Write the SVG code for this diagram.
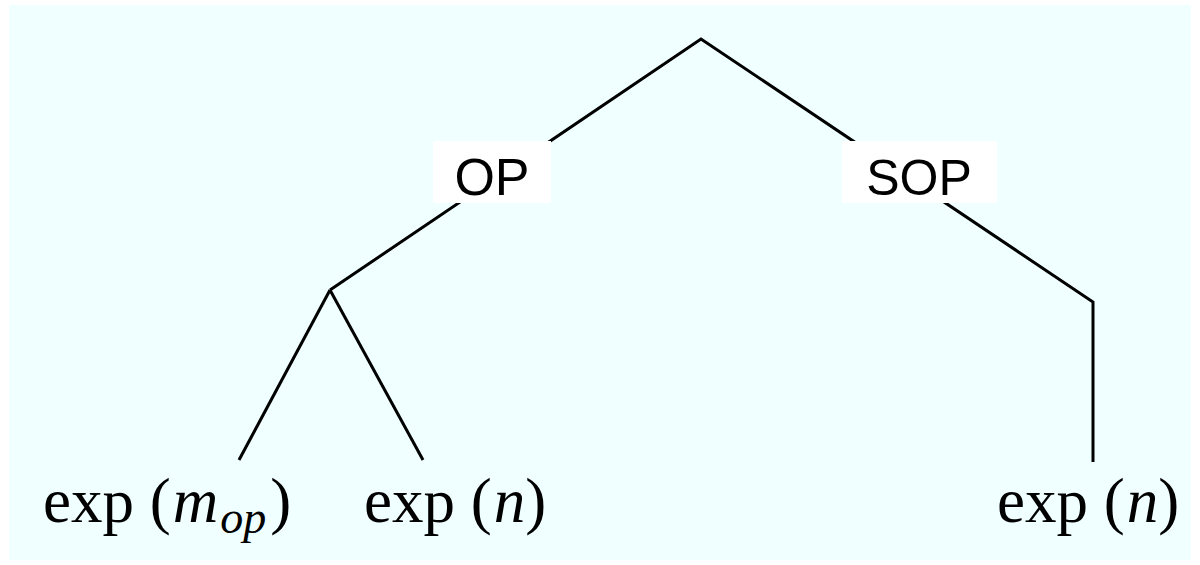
<svg xmlns="http://www.w3.org/2000/svg" width="1200" height="565" viewBox="0 0 1200 565">
<style>
.edge{stroke:#000;stroke-width:3;fill:none;stroke-linecap:butt;stroke-linejoin:miter}
.lbl{font-family:"Liberation Sans",Arial,sans-serif;fill:#000;text-anchor:middle}
.box{fill:#fff}
.math{font-family:"Liberation Serif","Times New Roman",serif;font-size:63px;fill:#000}
.it{font-style:italic}
</style>
<rect x="9" y="5" width="1182" height="555" fill="#F0FFFF"/>
<g id="connectors">
<polyline class="edge" points="330,290 701,39 1093,302 1093,462"/>
<line class="edge" x1="330" y1="290" x2="239" y2="460"/>
<line class="edge" x1="330" y1="290" x2="423" y2="460"/>
</g>
<g id="node-op">
<rect class="box" x="433" y="141" width="118" height="62"/>
<text class="lbl" x="492" y="195" font-size="52">OP</text>
</g>
<g id="node-sop">
<rect class="box" x="842" y="141" width="155" height="62"/>
<text class="lbl" x="919" y="195" font-size="50">SOP</text>
</g>
<g id="leaf-mop">
<text class="math" x="43" y="522">exp (<tspan class="it" dx="2">m</tspan><tspan class="it" font-size="46" dx="2" dy="11">op</tspan><tspan dx="4" dy="-11">)</tspan></text>
</g>
<g id="leaf-n1">
<text class="math" x="364" y="522">exp (<tspan class="it" dx="2">n</tspan>)</text>
</g>
<g id="leaf-n2">
<text class="math" x="997" y="522">exp (<tspan class="it" dx="2">n</tspan>)</text>
</g>
</svg>
